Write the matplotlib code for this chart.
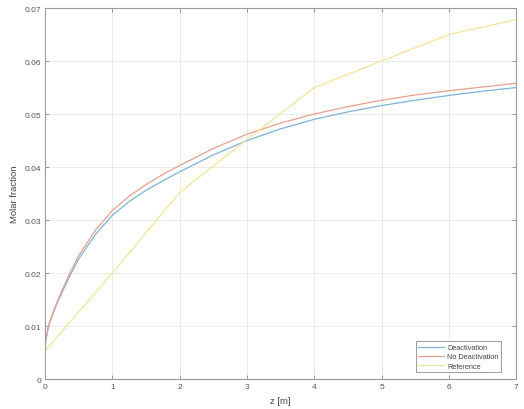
import matplotlib
matplotlib.use("Agg")
import matplotlib.pyplot as plt

# values
z_model = [0, 0.05, 0.1, 0.2, 0.35, 0.5, 0.75, 1.0, 1.25, 1.5, 1.75, 2.0, 2.5,
           3.0, 3.5, 4.0, 4.5, 5.0, 5.5, 6.0, 6.5, 7.0]
deactivation = [0.0065, 0.0099, 0.0118, 0.0149, 0.0190, 0.0227, 0.0273, 0.0309,
                0.0335, 0.0356, 0.0374, 0.0391, 0.0423, 0.0450, 0.0472, 0.0490,
                0.0504, 0.0516, 0.0526, 0.0535, 0.0543, 0.0550]
no_deactivation = [0.0065, 0.0100, 0.0120, 0.0152, 0.0195, 0.0233, 0.0281, 0.0318,
                   0.0345, 0.0367, 0.0386, 0.0403, 0.0435, 0.0462, 0.0483, 0.0500,
                   0.0514, 0.0526, 0.0536, 0.0544, 0.0551, 0.0558]
z_ref = [0, 1, 2, 3, 4, 5, 6, 7]
reference = [0.0053, 0.0200, 0.0352, 0.0452, 0.0550, 0.0600, 0.0650, 0.0678]

x_ticks = [0, 1, 2, 3, 4, 5, 6, 7]
y_ticks = [0, 0.01, 0.02, 0.03, 0.04, 0.05, 0.06, 0.07]
y_labels = ["0", "0.01", "0.02", "0.03", "0.04", "0.05", "0.06", "0.07"]

plt.rcParams["font.family"] = ["Liberation Sans", "DejaVu Sans"]

fig = plt.figure(figsize=(5.24, 4.10), dpi=100)
ax = fig.add_axes([0.086, 0.073, 0.899, 0.905])

ax.plot(z_model, deactivation, color="#7fb2d6", linewidth=0.9, label="Deactivation")
ax.plot(z_model, no_deactivation, color="#e6a08e", linewidth=0.9, label="No Deactivation")
ax.plot(z_ref, reference, color="#f2e49a", linewidth=0.9, label="Reference")

ax.set_xlim(0, 7)
ax.set_ylim(0, 0.07)
ax.set_xticks(x_ticks)
ax.set_yticks(y_ticks)
ax.set_yticklabels(y_labels)
ax.grid(True, color="#e8e8e8", linewidth=0.6)
ax.set_axisbelow(True)
ax.tick_params(direction="in", top=True, right=True, length=3, width=0.6,
               colors="#8a8a8a", labelcolor="#555555", labelsize=6, pad=3)
for s in ax.spines.values():
    s.set_color("#9a9a9a")
    s.set_linewidth(0.8)

ax.set_xlabel("z [m]", fontsize=6.8, color="#444444", labelpad=4)
ax.set_ylabel("Molar fraction", fontsize=6.8, color="#444444", labelpad=4)

leg = ax.legend(loc="lower right", bbox_to_anchor=(0.968, 0.018), borderaxespad=0,
                fontsize=5.3, handlelength=3.5, handletextpad=0.4,
                borderpad=0.35, labelspacing=0.3, fancybox=False, framealpha=1)
leg.get_frame().set_edgecolor("#9a9a9a")
leg.get_frame().set_linewidth(0.7)
for t in leg.get_texts():
    t.set_color("#444444")

fig.savefig("out.png", dpi=100)
